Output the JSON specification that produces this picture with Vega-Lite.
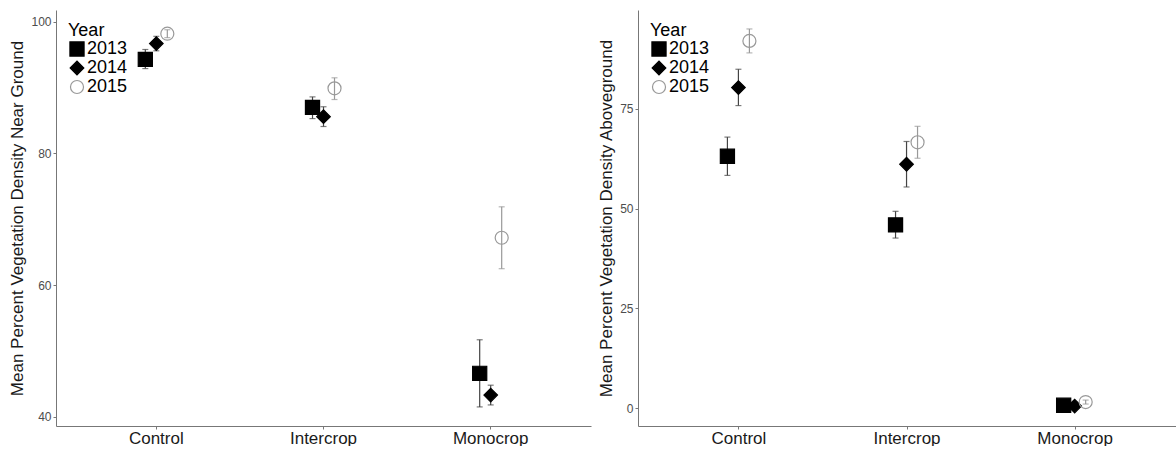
{
  "$schema": "https://vega.github.io/schema/vega-lite/v6.json",
  "padding": {"left": 8, "top": 10, "right": 0, "bottom": 0},
  "spacing": 6,
  "config": {
    "font": "Liberation Sans",
    "view": {"stroke": null},
    "axis": {
      "grid": false,
      "domainColor": "#777777",
      "tickColor": "#777777",
      "tickSize": 3,
      "labelPadding": 2,
      "labelColor": "#4d4d4d",
      "labelFontSize": 12,
      "titleColor": "#1a1a1a",
      "titleFontSize": 17,
      "titleFontWeight": "normal",
      "titlePadding": 4
    },
    "legend": {
      "titleFontSize": 18,
      "titleFontWeight": "normal",
      "titleColor": "#000000",
      "labelFontSize": 18,
      "labelColor": "#000000",
      "labelOffset": 1,
      "rowPadding": -3.5,
      "titlePadding": 0,
      "padding": 0,
      "symbolStrokeWidth": 1.2
    }
  },
  "datasets": {
    "ground": [
      {"treatment": "Control", "year": "2013", "mean": 94.3, "lo": 92.9, "hi": 95.8},
      {"treatment": "Control", "year": "2014", "mean": 96.7, "lo": 95.6, "hi": 97.8},
      {"treatment": "Control", "year": "2015", "mean": 98.2, "lo": 97.6, "hi": 98.8},
      {"treatment": "Intercrop", "year": "2013", "mean": 87.0, "lo": 85.3, "hi": 88.6},
      {"treatment": "Intercrop", "year": "2014", "mean": 85.6, "lo": 84.1, "hi": 87.1},
      {"treatment": "Intercrop", "year": "2015", "mean": 89.9, "lo": 88.2, "hi": 91.5},
      {"treatment": "Monocrop", "year": "2013", "mean": 46.6, "lo": 41.5, "hi": 51.7},
      {"treatment": "Monocrop", "year": "2014", "mean": 43.3, "lo": 41.8, "hi": 44.8},
      {"treatment": "Monocrop", "year": "2015", "mean": 67.2, "lo": 62.5, "hi": 71.9}
    ],
    "above": [
      {"treatment": "Control", "year": "2013", "mean": 63.1, "lo": 58.3, "hi": 67.9},
      {"treatment": "Control", "year": "2014", "mean": 80.3, "lo": 75.8, "hi": 84.9},
      {"treatment": "Control", "year": "2015", "mean": 92.0, "lo": 89.0, "hi": 95.0},
      {"treatment": "Intercrop", "year": "2013", "mean": 45.9, "lo": 42.6, "hi": 49.3},
      {"treatment": "Intercrop", "year": "2014", "mean": 61.1, "lo": 55.4, "hi": 66.8},
      {"treatment": "Intercrop", "year": "2015", "mean": 66.6, "lo": 62.6, "hi": 70.6},
      {"treatment": "Monocrop", "year": "2013", "mean": 0.7, "lo": 0.7, "hi": 0.7},
      {"treatment": "Monocrop", "year": "2014", "mean": 0.5, "lo": 0.5, "hi": 0.5},
      {"treatment": "Monocrop", "year": "2015", "mean": 1.5, "lo": 1.0, "hi": 2.0}
    ]
  },
  "hconcat": [
    {
      "width": 535,
      "height": 416,
      "data": {"name": "ground"},
      "encoding": {
        "x": {
          "field": "treatment", "type": "nominal",
          "sort": ["Control", "Intercrop", "Monocrop"],
          "scale": {"type": "band", "paddingInner": 0, "paddingOuter": 0.1},
          "axis": {"title": null, "labelAngle": 0, "labelFontSize": 17, "labelColor": "#1a1a1a", "labelPadding": 1}
        },
        "xOffset": {
          "field": "year", "type": "nominal",
          "scale": {"type": "point", "range": [72.6, 94.6], "padding": 0}
        }
      },
      "layer": [
        {
          "mark": {"type": "rule", "strokeWidth": 1.2},
          "encoding": {
            "y": {"field": "lo", "type": "quantitative", "title": "Mean Percent Vegetation Density Near Ground",
                  "scale": {"domain": [38.6, 101.8], "nice": false, "zero": false},
                  "axis": {"values": [40, 60, 80, 100]}},
            "y2": {"field": "hi"},
            "color": {"field": "year", "type": "nominal", "scale": {"domain": ["2015", "2014", "2013"], "range": ["#999999", "#444444", "#444444"]}, "legend": null}
          }
        },
        {
          "mark": {"type": "tick", "thickness": 1.2, "size": 6},
          "encoding": {
            "y": {"field": "lo", "type": "quantitative", "title": "Mean Percent Vegetation Density Near Ground"},
            "color": {"field": "year", "type": "nominal", "legend": null}
          }
        },
        {
          "mark": {"type": "tick", "thickness": 1.2, "size": 6},
          "encoding": {
            "y": {"field": "hi", "type": "quantitative", "title": "Mean Percent Vegetation Density Near Ground"},
            "color": {"field": "year", "type": "nominal", "legend": null}
          }
        },
        {
          "mark": {"type": "point", "opacity": 1, "strokeWidth": 1.2},
          "encoding": {
            "y": {"field": "mean", "type": "quantitative", "title": "Mean Percent Vegetation Density Near Ground"},
            "shape": {"field": "year", "type": "nominal", "title": "Year",
                      "scale": {"domain": ["2013", "2014", "2015"], "range": ["square", "diamond", "circle"]},
                      "legend": {"orient": "top-left", "offset": 12}},
            "fill": {"field": "year", "type": "nominal", "title": "Year",
                     "scale": {"domain": ["2013", "2014", "2015"], "range": ["#000000", "#000000", "transparent"]},
                     "legend": {"orient": "top-left", "offset": 12}},
            "stroke": {"field": "year", "type": "nominal", "title": "Year",
                       "scale": {"domain": ["2013", "2014", "2015"], "range": ["#000000", "#000000", "#999999"]},
                       "legend": {"orient": "top-left", "offset": 12}},
            "size": {"field": "year", "type": "nominal", "title": "Year",
                     "scale": {"domain": ["2013", "2014", "2015"], "range": [200, 170, 240]},
                     "legend": {"orient": "top-left", "offset": 12}}
          }
        }
      ]
    },
    {
      "width": 538,
      "height": 416,
      "data": {"name": "above"},
      "encoding": {
        "x": {
          "field": "treatment", "type": "nominal",
          "sort": ["Control", "Intercrop", "Monocrop"],
          "scale": {"type": "band", "paddingInner": 0, "paddingOuter": 0.1},
          "axis": {"title": null, "labelAngle": 0, "labelFontSize": 17, "labelColor": "#1a1a1a", "labelPadding": 1}
        },
        "xOffset": {
          "field": "year", "type": "nominal",
          "scale": {"type": "point", "range": [73, 95], "padding": 0}
        }
      },
      "layer": [
        {
          "mark": {"type": "rule", "strokeWidth": 1.2},
          "encoding": {
            "y": {"field": "lo", "type": "quantitative", "title": "Mean Percent Vegetation Density Aboveground",
                  "scale": {"domain": [-4.5, 99.75], "nice": false, "zero": false},
                  "axis": {"values": [0, 25, 50, 75]}},
            "y2": {"field": "hi"},
            "color": {"field": "year", "type": "nominal", "scale": {"domain": ["2015", "2014", "2013"], "range": ["#999999", "#444444", "#444444"]}, "legend": null}
          }
        },
        {
          "mark": {"type": "tick", "thickness": 1.2, "size": 6},
          "encoding": {
            "y": {"field": "lo", "type": "quantitative", "title": "Mean Percent Vegetation Density Aboveground"},
            "color": {"field": "year", "type": "nominal", "legend": null}
          }
        },
        {
          "mark": {"type": "tick", "thickness": 1.2, "size": 6},
          "encoding": {
            "y": {"field": "hi", "type": "quantitative", "title": "Mean Percent Vegetation Density Aboveground"},
            "color": {"field": "year", "type": "nominal", "legend": null}
          }
        },
        {
          "mark": {"type": "point", "opacity": 1, "strokeWidth": 1.2},
          "encoding": {
            "y": {"field": "mean", "type": "quantitative", "title": "Mean Percent Vegetation Density Aboveground"},
            "shape": {"field": "year", "type": "nominal", "title": "Year",
                      "scale": {"domain": ["2013", "2014", "2015"], "range": ["square", "diamond", "circle"]},
                      "legend": {"orient": "top-left", "offset": 12}},
            "fill": {"field": "year", "type": "nominal", "title": "Year",
                     "scale": {"domain": ["2013", "2014", "2015"], "range": ["#000000", "#000000", "transparent"]},
                     "legend": {"orient": "top-left", "offset": 12}},
            "stroke": {"field": "year", "type": "nominal", "title": "Year",
                       "scale": {"domain": ["2013", "2014", "2015"], "range": ["#000000", "#000000", "#999999"]},
                       "legend": {"orient": "top-left", "offset": 12}},
            "size": {"field": "year", "type": "nominal", "title": "Year",
                     "scale": {"domain": ["2013", "2014", "2015"], "range": [200, 170, 240]},
                     "legend": {"orient": "top-left", "offset": 12}}
          }
        }
      ]
    }
  ],
  "resolve": {"scale": {"shape": "independent", "fill": "independent", "stroke": "independent", "size": "independent", "color": "independent"}, "legend": {"shape": "independent", "fill": "independent", "stroke": "independent", "size": "independent"}}
}
